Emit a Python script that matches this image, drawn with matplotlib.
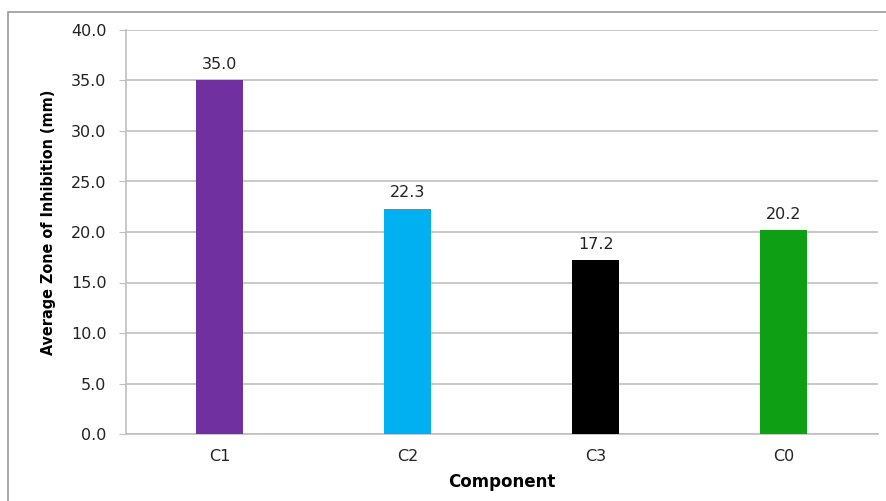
import matplotlib
matplotlib.use("Agg")
import matplotlib.pyplot as plt
from matplotlib.patches import Rectangle

categories = ["C1", "C2", "C3", "C0"]
values = [35.0, 22.3, 17.2, 20.2]
colors = ["#7030A0", "#00B0F0", "#000000", "#0F9F14"]
yticks = [0, 5, 10, 15, 20, 25, 30, 35, 40]

W, H = 887, 501
fig = plt.figure(figsize=(W / 100, H / 100), dpi=100)
ax = fig.add_axes([126 / W, 1 - 434 / H, (878 - 126) / W, (434 - 30) / H])

# figure border
fig.patches.append(Rectangle((8 / W, -0.1), 1.2, (1 - 12 / H) + 0.1,
                             transform=fig.transFigure, fill=False,
                             edgecolor="#9a9a9a", linewidth=1.2, zorder=0))

x = list(range(len(categories)))
ax.bar(x, values, width=0.25, color=colors, zorder=3)
for xi, v in zip(x, values):
    ax.annotate(f"{v:.1f}", (xi, v), xytext=(0, 6), textcoords="offset points",
                ha="center", va="bottom", fontsize=11.5, color="#222222")

ax.set_xlim(-0.5, 3.5)
ax.set_ylim(0, 40)
ax.set_yticks(yticks)
ax.set_yticklabels([f"{t:.1f}" for t in yticks])
ax.set_xticks(x)
ax.set_xticklabels(categories)
ax.grid(axis="y", color="#BFBFBF", linewidth=1.2, zorder=0)
ax.set_axisbelow(True)
for s in ["top", "right"]:
    ax.spines[s].set_visible(False)
for s in ["left", "bottom"]:
    ax.spines[s].set_color("#BFBFBF")
    ax.spines[s].set_linewidth(1.2)
ax.tick_params(axis="y", length=5, color="#BFBFBF", labelsize=11.5, labelcolor="#222222", pad=9)
ax.tick_params(axis="x", length=0, labelsize=11.5, labelcolor="#222222", pad=11)

ax.set_ylabel("Average Zone of Inhibition (mm)", fontsize=11.5, fontweight="bold",
              fontstretch="condensed")
ax.yaxis.set_label_coords(-0.093, 0.525)
ax.set_xlabel("Component", fontsize=12, fontweight="bold", labelpad=6)

fig.savefig("out.png", dpi=100)
